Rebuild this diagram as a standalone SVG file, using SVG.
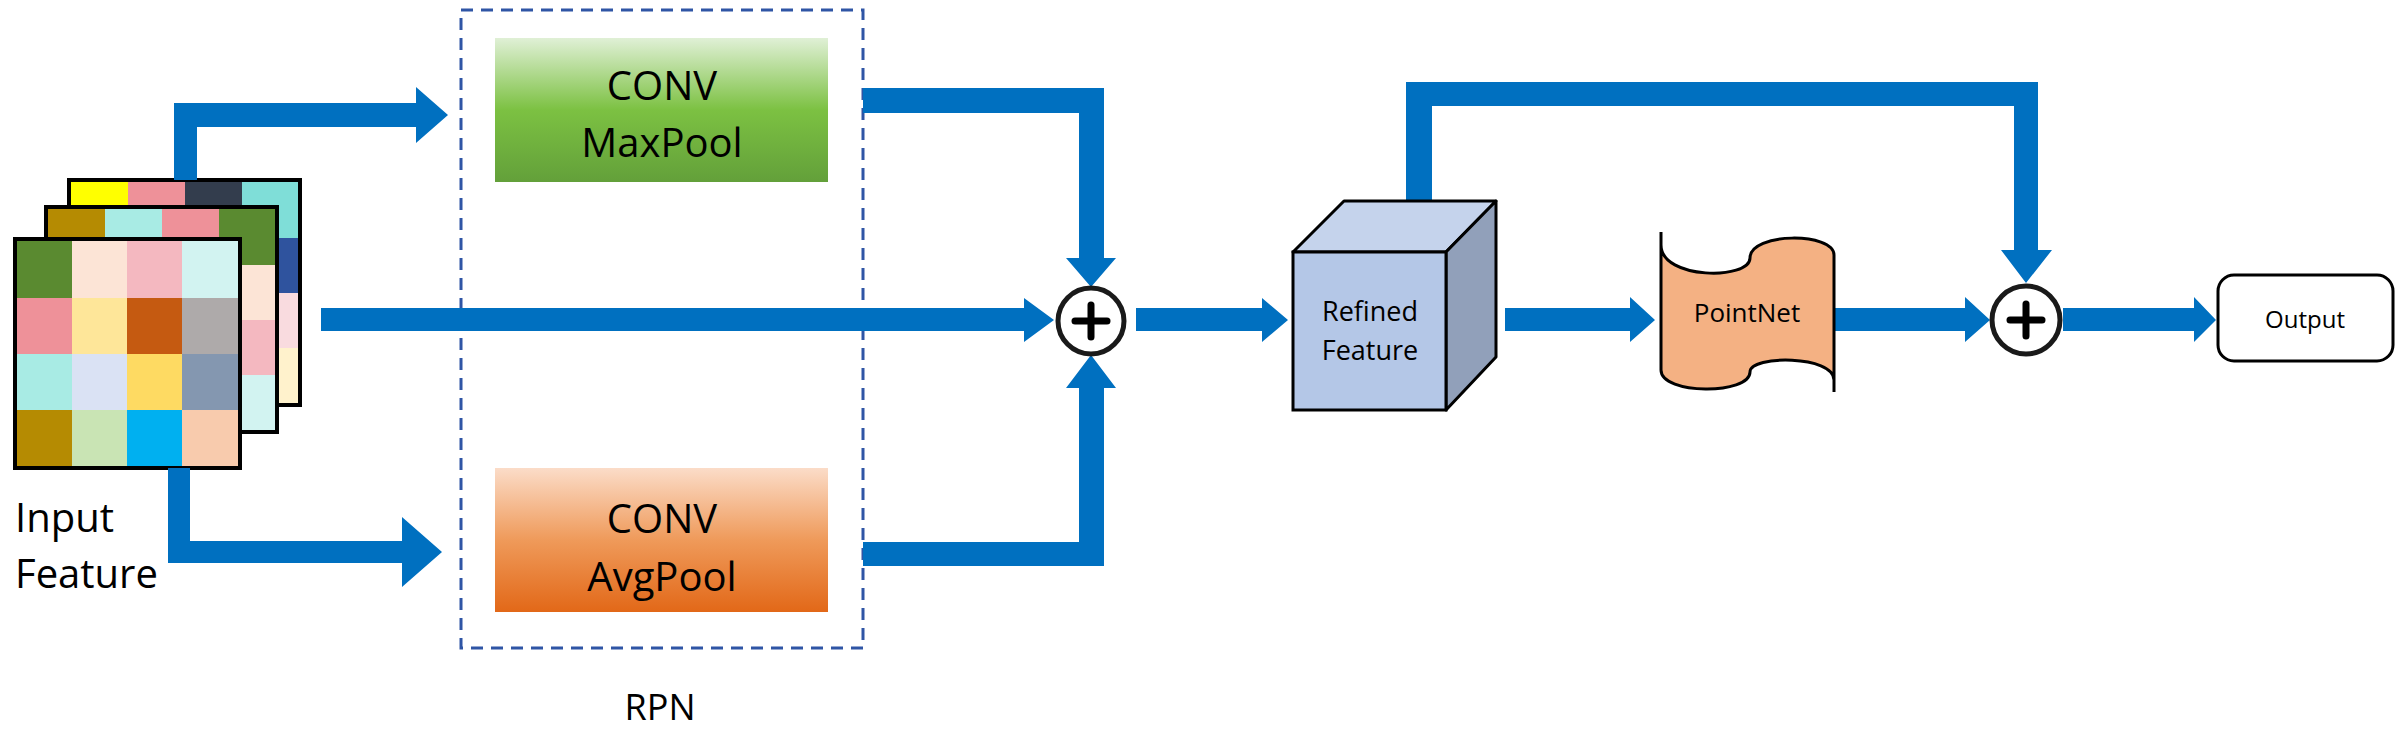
<svg xmlns="http://www.w3.org/2000/svg" width="2400" height="734" viewBox="0 0 2400 734">
<style>
.t{font-family:"Open Sans","Liberation Sans",sans-serif;fill:#000;text-anchor:middle}
.arr{fill:#0070C0}
.frame{fill:none;stroke:#000;stroke-width:4}
.pc{fill:#fff;stroke:#1a1a1a;stroke-width:5}
.pl{stroke:#000;stroke-width:7;stroke-linecap:round}
</style>
<defs>
<linearGradient id="gG" x1="0" y1="0" x2="0" y2="1"><stop offset="0" stop-color="#e0f0d6"/><stop offset="0.5" stop-color="#7cc142"/><stop offset="1" stop-color="#63a03a"/></linearGradient>
<linearGradient id="gO" x1="0" y1="0" x2="0" y2="1"><stop offset="0" stop-color="#fbdcc8"/><stop offset="0.5" stop-color="#ef9a5a"/><stop offset="1" stop-color="#e26818"/></linearGradient>
</defs>
<g id="input">
<g>
<rect x="69" y="180" width="231" height="225" fill="#fff"/>
<rect x="71" y="182" width="57" height="56" fill="#FFFF00"/><rect x="128" y="182" width="57" height="56" fill="#EE9199"/><rect x="185" y="182" width="57" height="56" fill="#333D4D"/><rect x="242" y="182" width="56" height="56" fill="#7FDED8"/>
<rect x="242" y="238" width="56" height="55" fill="#2F539E"/><rect x="242" y="293" width="56" height="55" fill="#F9DBDF"/><rect x="242" y="348" width="56" height="55" fill="#FFF2CC"/>
<rect x="69" y="180" width="231" height="225" class="frame"/>
</g>
<g>
<rect x="46" y="207" width="231" height="225" fill="#fff"/>
<rect x="48" y="209" width="57" height="56" fill="#B58B02"/><rect x="105" y="209" width="57" height="56" fill="#A8EBE4"/><rect x="162" y="209" width="57" height="56" fill="#EE9199"/><rect x="219" y="209" width="56" height="56" fill="#5A8A30"/>
<rect x="219" y="265" width="56" height="55" fill="#FCE4D6"/><rect x="219" y="320" width="56" height="55" fill="#F4B8C0"/><rect x="219" y="375" width="56" height="55" fill="#D2F3F1"/>
<rect x="46" y="207" width="231" height="225" class="frame"/>
</g>
<g>
<rect x="17" y="241" width="55" height="57" fill="#5A8A30"/><rect x="72" y="241" width="55" height="57" fill="#FCE4D6"/><rect x="127" y="241" width="55" height="57" fill="#F4B8C0"/><rect x="182" y="241" width="56" height="57" fill="#D2F3F1"/>
<rect x="17" y="298" width="55" height="56" fill="#EE9199"/><rect x="72" y="298" width="55" height="56" fill="#FEE699"/><rect x="127" y="298" width="55" height="56" fill="#C55A11"/><rect x="182" y="298" width="56" height="56" fill="#AEAAAA"/>
<rect x="17" y="354" width="55" height="56" fill="#A8EBE4"/><rect x="72" y="354" width="55" height="56" fill="#DAE2F4"/><rect x="127" y="354" width="55" height="56" fill="#FEDA62"/><rect x="182" y="354" width="56" height="56" fill="#8497B0"/>
<rect x="17" y="410" width="55" height="56" fill="#B58B02"/><rect x="72" y="410" width="55" height="56" fill="#C9E4B4"/><rect x="127" y="410" width="55" height="56" fill="#00B0F0"/><rect x="182" y="410" width="56" height="56" fill="#F8CBAD"/>
<rect x="15" y="239" width="225" height="229" class="frame"/>
</g>
<text class="t" x="15" y="532" font-size="40" style="text-anchor:start">Input</text>
<text class="t" x="15" y="588" font-size="40" style="text-anchor:start">Feature</text>
</g>
<g id="rpn">
<rect x="461" y="10" width="402" height="638" fill="none" stroke="#2F55A5" stroke-width="3" stroke-dasharray="12,8"/>
<text class="t" x="660" y="720" font-size="36">RPN</text>
</g>
<g id="maxpool">
<rect x="495" y="38" width="333" height="144" fill="url(#gG)"/>
<text class="t" x="662" y="100" font-size="40">CONV</text>
<text class="t" x="662" y="157" font-size="40">MaxPool</text>
</g>
<g id="avgpool">
<rect x="495" y="468" width="333" height="144" fill="url(#gO)"/>
<text class="t" x="662" y="533" font-size="40">CONV</text>
<text class="t" x="662" y="591" font-size="40">AvgPool</text>
</g>
<g id="connectors">
<polygon class="arr" points="174,180 174,103 416,103 416,87 448,115 416,143 416,127 197,127 197,180"/>
<polygon class="arr" points="168,468 168,563 402,563 402,587 442,552 402,517 402,541 190,541 190,468"/>
<polygon class="arr" points="321,308 1024,308 1024,298 1054,320 1024,342 1024,331 321,331"/>
<polygon class="arr" points="863,88 1104,88 1104,258 1116,258 1091,287 1066,258 1079,258 1079,113 863,113"/>
<polygon class="arr" points="863,566 1104,566 1104,388 1116,388 1091,355 1066,388 1079,388 1079,542 863,542"/>
<polygon class="arr" points="1136,308 1262,308 1262,298 1288,320 1262,342 1262,331 1136,331"/>
<polygon class="arr" points="1505,308 1630,308 1630,297 1655,320 1630,342 1630,331 1505,331"/>
<polygon class="arr" points="1834,308 1965,308 1965,297 1990,320 1965,342 1965,331 1834,331"/>
<polygon class="arr" points="2063,308 2194,308 2194,297 2216,320 2194,342 2194,331 2063,331"/>
<polygon class="arr" points="1406,201 1406,82 2038,82 2038,250 2052,250 2026,283 2001,250 2014,250 2014,106 1432,106 1432,201"/>
</g>
<g id="plus1">
<circle class="pc" cx="1091" cy="321" r="33"/>
<line class="pl" x1="1075" y1="321" x2="1107" y2="321"/><line class="pl" x1="1091" y1="305" x2="1091" y2="337"/>
</g>
<g id="cube">
<polygon points="1293,252 1344,201 1496,201 1446,252" fill="#C5D3EC" stroke="#000" stroke-width="3" stroke-linejoin="round"/>
<polygon points="1446,252 1496,201 1496,357 1446,410" fill="#91A0BA" stroke="#000" stroke-width="3" stroke-linejoin="round"/>
<rect x="1293" y="252" width="153" height="158" fill="#B4C7E7" stroke="#000" stroke-width="3"/>
<text class="t" x="1370" y="321" font-size="27">Refined</text>
<text class="t" x="1370" y="360" font-size="27">Feature</text>
</g>
<g id="pointnet">
<path d="M1661,245 C1661,280 1750,280 1750,258 C1750,232 1834,232 1834,255 L1834,380 C1834,355 1750,355 1750,372 C1750,395 1661,395 1661,370 Z" fill="#F4B183" stroke="#000" stroke-width="3"/>
<line x1="1661" y1="245" x2="1661" y2="232" stroke="#000" stroke-width="3"/>
<line x1="1834" y1="380" x2="1834" y2="392" stroke="#000" stroke-width="3"/>
<text class="t" x="1747" y="322" font-size="26">PointNet</text>
</g>
<g id="plus2">
<circle class="pc" cx="2026" cy="320" r="34"/>
<line class="pl" x1="2010" y1="320" x2="2042" y2="320"/><line class="pl" x1="2026" y1="304" x2="2026" y2="336"/>
</g>
<g id="output">
<rect x="2218" y="275" width="175" height="86" rx="16" fill="#fff" stroke="#000" stroke-width="3"/>
<text class="t" x="2305" y="328" font-size="24">Output</text>
</g>
</svg>
